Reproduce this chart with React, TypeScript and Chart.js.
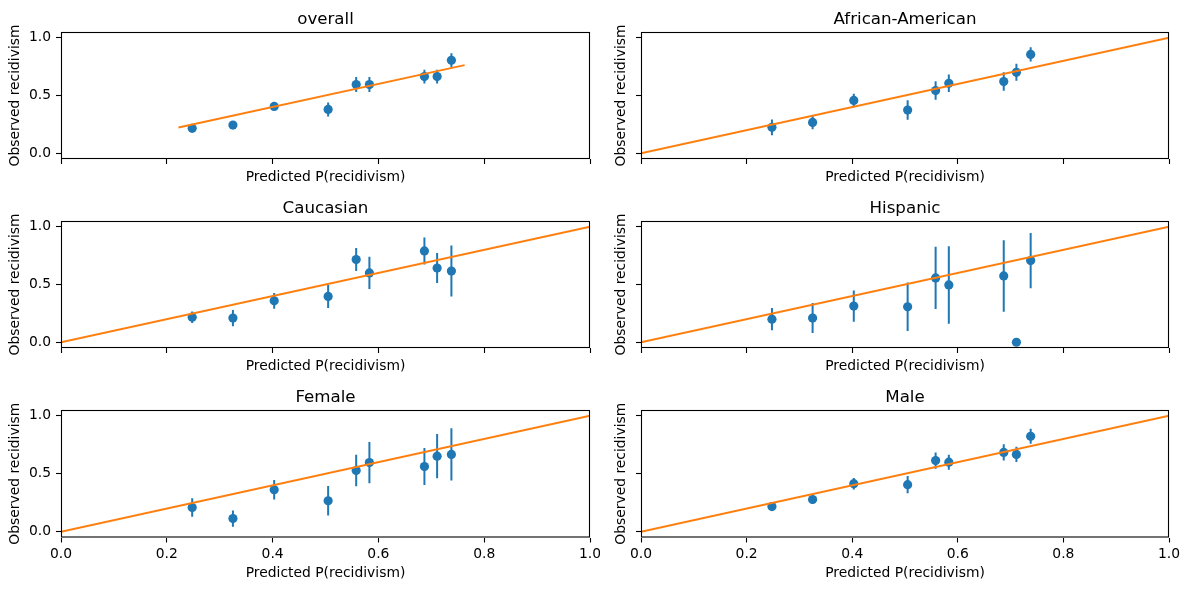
import React, { useEffect, useRef } from 'react';
import { Chart, registerables } from 'chart.js';
Chart.register(...registerables);

// ---------------- data ----------------
const predicted = [0.248, 0.325, 0.403, 0.505, 0.558, 0.583, 0.687, 0.711, 0.738];

const overallObserved = [0.216, 0.244, 0.405, 0.379, 0.595, 0.595, 0.664, 0.664, 0.805];
const overallErr = [0.025, 0.03, 0.03, 0.06, 0.065, 0.065, 0.06, 0.06, 0.06];

const africanAmericanObserved = [0.224, 0.267, 0.457, 0.374, 0.543, 0.606, 0.621, 0.701, 0.856];
const africanAmericanErr = [0.068, 0.06, 0.058, 0.085, 0.08, 0.075, 0.08, 0.073, 0.062];

const caucasianObserved = [0.217, 0.209, 0.359, 0.397, 0.716, 0.6, 0.791, 0.643, 0.617];
const caucasianErr = [0.05, 0.07, 0.068, 0.1, 0.1, 0.14, 0.117, 0.13, 0.22];

const hispanicObserved = [0.2, 0.209, 0.313, 0.307, 0.557, 0.496, 0.574, 0.0, 0.707];
const hispanicErr = [0.096, 0.13, 0.135, 0.21, 0.27, 0.335, 0.31, 0.0, 0.24];

const femaleObserved = [0.209, 0.113, 0.362, 0.267, 0.528, 0.597, 0.562, 0.652, 0.667];
const femaleErr = [0.08, 0.07, 0.085, 0.127, 0.135, 0.178, 0.16, 0.19, 0.226];

const maleObserved = [0.217, 0.278, 0.414, 0.406, 0.614, 0.6, 0.684, 0.667, 0.823];
const maleErr = [0.02, 0.035, 0.05, 0.075, 0.07, 0.065, 0.07, 0.065, 0.065];

const overallLine = [0.222, 0.763];
const identityLine = [0, 1];

const panelTitles = ['overall', 'African-American', 'Caucasian', 'Hispanic', 'Female', 'Male'];

const xTicks = [0, 0.2, 0.4, 0.6, 0.8, 1.0];
const yTicks = [0, 0.5, 1.0];
const xLabel = 'Predicted P(recidivism)';
const yLabel = 'Observed recidivism';

// ---------------- layout / style ----------------
const FONT = 'DejaVu Sans';
const BLUE = '#1f77b4';
const ORANGE = '#ff7f0e';

const panels = [
  { title: panelTitles[0], obs: overallObserved, err: overallErr, line: overallLine },
  { title: panelTitles[1], obs: africanAmericanObserved, err: africanAmericanErr, line: identityLine },
  { title: panelTitles[2], obs: caucasianObserved, err: caucasianErr, line: identityLine },
  { title: panelTitles[3], obs: hispanicObserved, err: hispanicErr, line: identityLine },
  { title: panelTitles[4], obs: femaleObserved, err: femaleErr, line: identityLine },
  { title: panelTitles[5], obs: maleObserved, err: maleErr, line: identityLine },
];

const COLS = [
  { left: 0, width: 600, axisW: 61, padR: 10, yTitlePad: 7.4, showY: true },
  { left: 600, width: 589, axisW: 41, padR: 20, yTitlePad: 12.7, showY: false },
];
const TOP_PAD = 32;
const PLOT_H = 127;
const ROWS = [
  { chartTop: 32, xh: 27, showX: false },
  { chartTop: 221, xh: 27, showX: false },
  { chartTop: 410, xh: 44.5, showX: true },
];

const titlePlugin = {
  id: 'panelTitle',
  afterDraw(chart: any, _args: any, opts: any) {
    const { ctx, chartArea } = chart;
    ctx.save();
    ctx.font = `16.67px "${FONT}"`;
    ctx.fillStyle = '#000';
    ctx.textAlign = 'center';
    ctx.textBaseline = 'alphabetic';
    ctx.fillText(opts.text, (chartArea.left + chartArea.right) / 2, chartArea.top - 8);
    ctx.restore();
  },
};

const framePlugin = {
  id: 'frame',
  afterDraw(chart: any) {
    const { ctx, chartArea } = chart;
    ctx.save();
    ctx.strokeStyle = '#000';
    ctx.lineWidth = 1.1;
    ctx.strokeRect(chartArea.left + 0.5, chartArea.top + 0.5, chartArea.right - chartArea.left - 1, chartArea.bottom - chartArea.top - 1);
    ctx.restore();
  },
};

function buildChart(canvas: HTMLCanvasElement, idx: number) {
  const p = panels[idx];
  const col = COLS[idx % 2];
  const row = ROWS[Math.floor(idx / 2)];

  const points = predicted.map((x, i) => ({ x, y: p.obs[i] }));
  const errData: any[] = [];
  predicted.forEach((x, i) => {
    if (p.err[i] > 0) {
      errData.push({ x, y: p.obs[i] - p.err[i] });
      errData.push({ x, y: p.obs[i] + p.err[i] });
      errData.push({ x, y: null });
    }
  });
  const lineData = p.line.map((v) => ({ x: v, y: v }));

  return new Chart(canvas, {
    type: 'scatter',
    data: {
      datasets: [
        {
          data: lineData,
          showLine: true,
          borderColor: ORANGE,
          borderWidth: 2,
          pointRadius: 0,
          order: 0,
        } as any,
        {
          data: points,
          backgroundColor: BLUE,
          borderColor: BLUE,
          borderWidth: 0,
          pointRadius: 4.6,
          order: 1,
        } as any,
        {
          data: errData,
          showLine: true,
          spanGaps: false,
          borderColor: BLUE,
          borderWidth: 2,
          pointRadius: 0,
          order: 2,
        } as any,
      ],
    },
    options: {
      responsive: false,
      animation: false,
      devicePixelRatio: 1,
      layout: { padding: { top: TOP_PAD, left: 0, right: col.padR, bottom: 0 } },
      plugins: {
        legend: { display: false },
        tooltip: { enabled: false },
        panelTitle: { text: p.title },
      } as any,
      scales: {
        x: {
          type: 'linear',
          min: 0,
          max: 1,
          afterBuildTicks: (s: any) => {
            s.ticks = xTicks.map((v) => ({ value: v }));
          },
          afterFit: (s: any) => {
            s.height = row.xh;
            s.paddingLeft = 0;
            s.paddingRight = 0;
          },
          grid: { drawOnChartArea: false, drawTicks: true, tickLength: 5, tickColor: '#000', color: '#000', tickWidth: 1.1 } as any,
          border: { display: false },
          ticks: {
            display: row.showX,
            padding: 4,
            color: '#000',
            maxRotation: 0,
            font: { family: FONT, size: 13.89 },
            callback: (v: any) => Number(v).toFixed(1),
          },
          title: {
            display: true,
            text: xLabel,
            color: '#000',
            font: { family: FONT, size: 13.89 },
            padding: { top: 0, bottom: 0 },
          },
        },
        y: {
          type: 'linear',
          min: -0.05,
          max: 1.05,
          afterBuildTicks: (s: any) => {
            s.ticks = yTicks.map((v) => ({ value: v }));
          },
          afterFit: (s: any) => {
            s.width = col.axisW;
            s.paddingTop = 0;
            s.paddingBottom = 0;
          },
          grid: { drawOnChartArea: false, drawTicks: true, tickLength: 5, tickColor: '#000', color: '#000', tickWidth: 1.1 } as any,
          border: { display: false },
          ticks: {
            display: col.showY,
            padding: 5,
            color: '#000',
            font: { family: FONT, size: 13.89 },
            callback: (v: any) => Number(v).toFixed(1),
          },
          title: {
            display: true,
            text: yLabel,
            color: '#000',
            font: { family: FONT, size: 13.89 },
            padding: { top: col.yTitlePad, bottom: 0 },
          },
        },
      },
    },
    plugins: [titlePlugin, framePlugin],
  });
}

export default function App() {
  const refs = useRef<(HTMLCanvasElement | null)[]>([]);

  useEffect(() => {
    const charts = panels.map((_, i) => buildChart(refs.current[i] as HTMLCanvasElement, i));
    return () => charts.forEach((c) => c.destroy());
  }, []);

  return (
    <div style={{ position: 'absolute', left: 0, top: 0, width: 1189, height: 590, background: '#fff' }}>
      {panels.map((_, i) => {
        const col = COLS[i % 2];
        const row = ROWS[Math.floor(i / 2)];
        const h = Math.round(TOP_PAD + PLOT_H + row.xh);
        return (
          <canvas
            key={i}
            ref={(el) => {
              refs.current[i] = el;
            }}
            width={col.width}
            height={h}
            style={{ position: 'absolute', left: col.left, top: row.chartTop - TOP_PAD, width: col.width, height: h }}
          />
        );
      })}
    </div>
  );
}
